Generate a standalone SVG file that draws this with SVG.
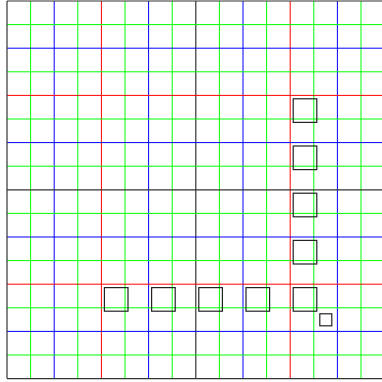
<svg xmlns="http://www.w3.org/2000/svg" width="382" height="382" viewBox="0 0 382 382">
<style>
.g{stroke:#00ff00;stroke-width:1}
.b{stroke:#0000ff;stroke-width:1}
.r{stroke:#ff0000;stroke-width:1}
.k{stroke:#333333;stroke-width:1.2}
.box{fill:none;stroke:#222222;stroke-width:1.2}
</style>
<rect width="382" height="382" fill="#ffffff"/>
<g id="grid-v">
<line class="g" x1="30.6" y1="1" x2="30.6" y2="378.6"/>
<line class="b" x1="54.2" y1="1" x2="54.2" y2="378.6"/>
<line class="g" x1="77.8" y1="1" x2="77.8" y2="378.6"/>
<line class="r" x1="101.4" y1="1" x2="101.4" y2="378.6"/>
<line class="g" x1="125" y1="1" x2="125" y2="378.6"/>
<line class="b" x1="148.6" y1="1" x2="148.6" y2="378.6"/>
<line class="g" x1="172.2" y1="1" x2="172.2" y2="378.6"/>
<line class="k" x1="195.8" y1="1" x2="195.8" y2="378.6"/>
<line class="g" x1="219.4" y1="1" x2="219.4" y2="378.6"/>
<line class="b" x1="243" y1="1" x2="243" y2="378.6"/>
<line class="g" x1="266.6" y1="1" x2="266.6" y2="378.6"/>
<line class="r" x1="290.2" y1="1" x2="290.2" y2="378.6"/>
<line class="g" x1="313.8" y1="1" x2="313.8" y2="378.6"/>
<line class="b" x1="337.4" y1="1" x2="337.4" y2="378.6"/>
<line class="g" x1="361" y1="1" x2="361" y2="378.6"/>
</g>
<g id="grid-h">
<line class="g" x1="7" y1="24.6" x2="384.6" y2="24.6"/>
<line class="b" x1="7" y1="48.2" x2="384.6" y2="48.2"/>
<line class="g" x1="7" y1="71.8" x2="384.6" y2="71.8"/>
<line class="r" x1="7" y1="95.4" x2="384.6" y2="95.4"/>
<line class="g" x1="7" y1="119" x2="384.6" y2="119"/>
<line class="b" x1="7" y1="142.6" x2="384.6" y2="142.6"/>
<line class="g" x1="7" y1="166.2" x2="384.6" y2="166.2"/>
<line class="k" x1="7" y1="189.8" x2="384.6" y2="189.8"/>
<line class="g" x1="7" y1="213.4" x2="384.6" y2="213.4"/>
<line class="b" x1="7" y1="237" x2="384.6" y2="237"/>
<line class="g" x1="7" y1="260.6" x2="384.6" y2="260.6"/>
<line class="r" x1="7" y1="284.2" x2="384.6" y2="284.2"/>
<line class="g" x1="7" y1="307.8" x2="384.6" y2="307.8"/>
<line class="b" x1="7" y1="331.4" x2="384.6" y2="331.4"/>
<line class="g" x1="7" y1="355" x2="384.6" y2="355"/>
</g>
<g id="border">
<line class="k" x1="7" y1="1" x2="384.6" y2="1"/>
<line class="k" x1="7" y1="378.6" x2="384.6" y2="378.6"/>
<line class="k" x1="7" y1="1" x2="7" y2="378.6"/>
</g>
<g id="box-row">
<rect class="box" x="104.4" y="287.6" width="23.6" height="23.6"/>
<rect class="box" x="151.6" y="287.6" width="23.6" height="23.6"/>
<rect class="box" x="198.8" y="287.6" width="23.6" height="23.6"/>
<rect class="box" x="246" y="287.6" width="23.6" height="23.6"/>
<rect class="box" x="293.2" y="287.6" width="23.6" height="23.6"/>
</g>
<g id="box-col">
<rect class="box" x="293.2" y="98.8" width="23.6" height="23.6"/>
<rect class="box" x="293.2" y="146" width="23.6" height="23.6"/>
<rect class="box" x="293.2" y="193.2" width="23.6" height="23.6"/>
<rect class="box" x="293.2" y="240.4" width="23.6" height="23.6"/>
</g>
<g id="small-box">
<rect class="box" x="319.8" y="313.8" width="12" height="12"/>
</g>
</svg>
